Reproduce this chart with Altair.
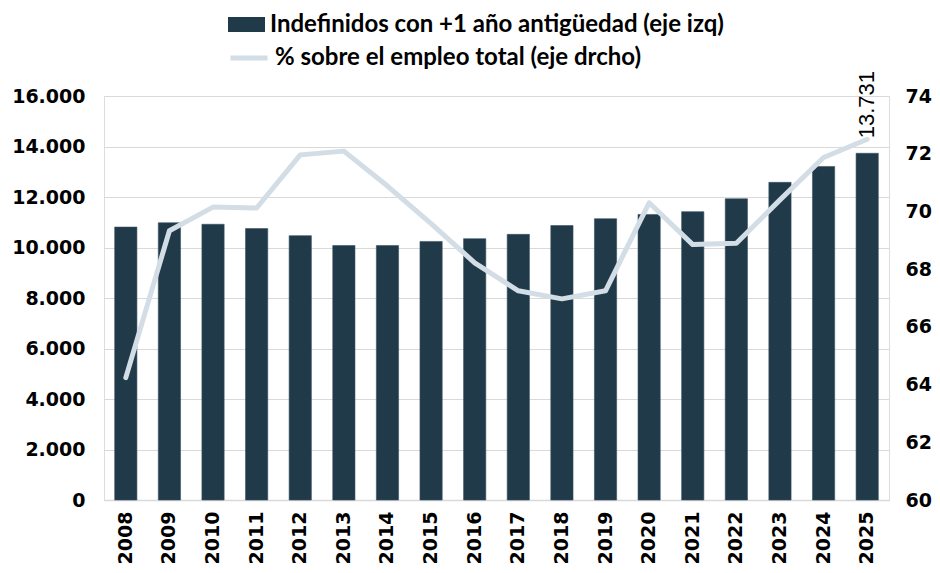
import altair as alt
import pandas as pd

years = [str(y) for y in range(2008, 2026)]
indefinidos = [10810, 10980, 10920, 10750, 10470, 10080, 10080, 10240, 10350,
               10520, 10870, 11140, 11310, 11420, 11930, 12580, 13210, 13731]
porcentaje = [64.24, 69.33, 70.15, 70.12, 71.96, 72.09, 70.88, 69.58, 68.22,
              67.25, 66.97, 67.25, 70.30, 68.85, 68.90, 70.40, 71.87, 72.50]
left_ticks = [0, 2000, 4000, 6000, 8000, 10000, 12000, 14000, 16000]
right_ticks = [60, 62, 64, 66, 68, 70, 72, 74]
bar_label = "Indefinidos con +1 año antigüedad (eje izq)"
line_label = "% sobre el empleo total (eje drcho)"
annotated_year = "2025"

BAR = "#203a4a"
LINE = "#d3dde6"
GRID = "#d9d9d9"
LEG_FONT = "Lato"

df = pd.DataFrame({"year": years, "indef": indefinidos, "pct": porcentaje,
                   "s_bar": bar_label, "s_line": line_label})

xenc = alt.X("year:N", title=None, sort=years,
             scale=alt.Scale(paddingInner=0.49, paddingOuter=0.245),
             axis=alt.Axis(labelAngle=270, labelFont="DejaVu Sans", labelFontWeight="bold",
                           labelFontSize=19, labelColor="#000", labelPadding=11,
                           ticks=False, domainColor=GRID, domainWidth=1.5))

yleft = alt.Y("indef:Q", title=None, scale=alt.Scale(domain=[0, 16000], nice=False),
              axis=alt.Axis(values=left_ticks, grid=True, gridColor=GRID, gridWidth=1.2,
                            domain=False, ticks=False, labelPadding=19,
                            labelFont="DejaVu Sans", labelFontWeight="bold", labelFontSize=19,
                            labelColor="#000",
                            labelExpr="replace(format(datum.value, ',d'), ',', '.')"))

bars = alt.Chart(df).mark_bar(stroke="#3a5262", strokeWidth=0.6).encode(
    x=xenc, y=yleft,
    fill=alt.Fill("s_bar:N", scale=alt.Scale(range=[BAR]),
                  legend=alt.Legend(title=None, orient="none", legendX=124, legendY=-90,
                                    padding=0,
                                    symbolType="M-1,-0.4H1V0.4H-1Z", symbolSize=1369,
                                    symbolStrokeWidth=0, labelFont=LEG_FONT,
                                    labelFontWeight="bold", labelFontSize=24, labelLimit=0,
                                    labelColor="#000", labelOffset=5)))

text = alt.Chart(df).transform_filter(
    alt.datum.year == annotated_year
).transform_calculate(
    lbl="replace(format(datum.indef, ',d'), ',', '.')"
).mark_text(angle=270, align="left", baseline="middle", dx=15,
            font="Liberation Sans", fontSize=22, color="#000").encode(
    x=xenc, y=yleft, text="lbl:N")

line = alt.Chart(df).mark_line(strokeWidth=5, strokeJoin="round", strokeCap="round").encode(
    x=xenc,
    y=alt.Y("pct:Q", title=None, scale=alt.Scale(domain=[60, 74], nice=False),
            axis=alt.Axis(orient="right", values=right_ticks, grid=False, domain=False,
                          ticks=False, labelPadding=16, labelFont="DejaVu Sans",
                          labelFontWeight="bold", labelFontSize=19, labelColor="#000")),
    stroke=alt.Stroke("s_line:N", scale=alt.Scale(range=[LINE]),
                      legend=alt.Legend(title=None, orient="none", legendX=124, legendY=-59,
                                        padding=0,
                                        symbolType="stroke", symbolSize=1369,
                                        symbolStrokeWidth=5, labelFont=LEG_FONT,
                                        labelFontWeight="bold", labelFontSize=24, labelLimit=0,
                                        labelColor="#000", labelOffset=5)))

chart = alt.layer(alt.layer(bars, text), line).resolve_scale(
    y="independent", fill="independent", stroke="independent"
).properties(
    width=785, height=404,
    autosize=alt.AutoSizeParams(type="none"),
    padding={"left": 96, "top": 88, "right": 43, "bottom": 65},
).configure_view(stroke=None).configure(background="#ffffff")

chart.save("out.html", embed_options={"renderer": "svg", "actions": False})
